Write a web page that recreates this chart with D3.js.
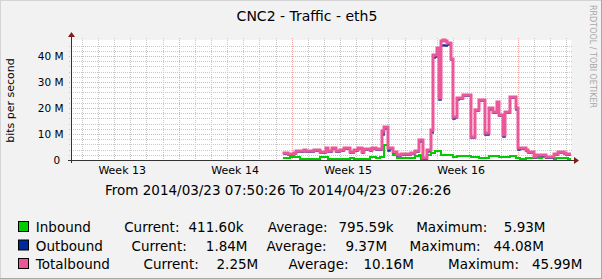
<!DOCTYPE html>
<html>
<head>
<meta charset="UTF-8"/>
<title>CNC2 - Traffic - eth5</title>
<style>
	body { margin: 0; background: #f2f2f2; }
	svg { display: block; font-family: 'DejaVu Sans', sans-serif; }
	.grid-minor { stroke: #c8c8c8; stroke-dasharray: 1 1; }
	.grid-major { stroke: #f5a8a8; stroke-dasharray: 1 1; }
	.axis-line { stroke: #333; stroke-width: 1; }
	.arrow { fill: #7f1d1d; }
	text { fill: #000; }
	.tick-label { font-size: 10.5px; }
	.week-label { font-size: 11px; }
	.title { font-size: 14px; }
	.legend { font-size: 13.5px; white-space: pre; }
	.vlabel { font-size: 11px; }
	.watermark { font-size: 8px; fill: #a8a8a8; }
</style>
<script src="https://cdn.jsdelivr.net/npm/d3@7"></script>
</head>
<body>
<svg width="602" height="279"></svg>
<script>
// time window of the graph
const startTime = new Date(Date.UTC(2014, 2, 23, 7, 50, 26));
const endTime = new Date(Date.UTC(2014, 3, 23, 7, 26, 26));
// rrd rows: first row and step (3 h)
const firstRow = new Date(Date.UTC(2014, 3, 5, 12, 0, 0));
const stepMs = 3 * 3600 * 1000;

// values in Mbit/s
const inbound = [0.6,0.6,0.6,1.0,1.0,1.0,1.0,1.0,0.5,0.5,
	0.5,0.5,0.5,0.5,0.5,0.5,0.5,0.5,1.0,1.0,
	1.0,1.0,0.5,0.5,0.5,0.5,0.5,0.5,0.5,0.5,
	0.5,0.5,0.5,0.7,0.7,0.5,0.5,0.5,0.5,0.5,
	0.5,0.5,0.5,1.0,1.0,1.0,0.6,0.6,1.0,1.0,
	5.93,5.9,4.5,4.5,1.9,1.9,0.9,0.9,0.64,0.64,
	0.64,0.64,0.64,0.64,0.64,1.54,1.54,1.9,0.5,0.4,
	0.4,1.9,1.9,2.56,2.56,3.59,3.59,3.59,1.92,1.91,
	1.92,1.92,1.92,1.92,1.28,1.28,1.54,1.54,1.54,1.54,
	1.54,1.54,1.54,1.28,1.28,1.28,1.28,0.9,0.9,0.9,
	0.9,0.64,1.54,1.54,1.54,1.54,1.54,1.28,1.28,1.28,
	1.28,1.28,1.54,1.54,1.54,0.64,0.64,0.5,0.5,0.5,
	0.9,0.9,0.9,0.64,0.64,0.64,0.64,0.64,1.28,1.28,
	0.9,0.9,0.9,0.9,0.5,0.6,0.6,0.6,0.6,0.6,
	0.6,0.41];

// mostly hidden under the totalbound line
const outbound = [2.4,2.4,1.9,1.9,1.9,2.4,3.1,3.1,3.1,3.1,
	3.4,3.1,3.1,3.1,3.1,3.4,3.4,3.4,2.8,2.8,
	2.8,4.1,3.1,3.1,4.1,4.1,3.1,3.1,3.4,3.4,
	4.1,4.1,4.1,2.8,2.8,3.4,3.4,4.1,4.1,2.8,
	3.8,3.8,3.8,3.4,4.3,4.3,3.8,3.8,3.8,9.5,
	11.8,12.0,3.6,4.2,2.6,2.6,1.5,1.5,1.9,1.9,
	1.9,1.9,1.9,2.4,2.4,3.1,3.1,6.8,7.3,0.3,
	0.3,3.2,3.4,10.3,39.4,39.8,42.0,22.9,44.0,44.08,
	44.0,44.3,44.5,38.4,15.8,16.2,23.1,23.3,23.3,24.6,
	24.6,24.6,24.6,8.3,8.6,18.8,18.8,22.5,22.6,22.6,
	9.5,9.8,19.4,19.5,18.2,18.2,21.9,16.8,16.9,8.9,
	18.1,18.2,23.9,24.0,24.0,19.4,3.9,4.1,4.1,4.1,
	3.4,2.8,2.8,2.8,0.9,1.4,1.4,1.4,1.4,1.4,
	0.7,0.7,0.7,0.7,1.8,1.8,2.5,2.5,2.5,2.2,
	1.9,1.84];

const totalbound = [2.8,2.8,2.3,2.3,2.3,2.8,3.5,3.5,3.5,3.5,
	3.8,3.5,3.5,3.5,3.5,3.8,3.8,3.8,3.2,3.2,
	3.2,4.5,3.5,3.5,4.5,4.5,3.5,3.5,3.8,3.8,
	4.5,4.5,4.5,3.2,3.2,3.8,3.8,4.5,4.5,3.2,
	4.2,4.2,4.2,3.8,4.7,4.7,4.2,4.2,4.2,11.0,
	12.5,12.5,4.8,4.8,3.0,3.0,1.9,1.9,2.3,2.3,
	2.3,2.3,2.3,2.8,2.8,3.5,3.5,7.7,7.7,0.6,
	0.6,3.8,3.8,11.5,40.5,40.5,43.0,24.0,45.9,45.99,
	45.9,44.9,44.9,39.0,16.7,16.7,23.7,23.7,23.7,25.0,
	25.0,25.0,25.0,9.0,9.0,19.2,19.2,23.0,23.0,23.0,
	10.2,10.2,19.9,19.9,18.6,18.6,22.4,17.3,17.3,9.6,
	18.6,18.6,24.4,24.4,24.4,19.9,4.5,4.5,4.5,4.5,
	3.8,3.2,3.2,3.2,1.3,1.8,1.8,1.8,1.8,1.8,
	1.0,1.0,1.0,1.0,2.2,2.2,2.9,2.9,2.9,2.6,
	2.25,2.25];

const seriesNames = ['Inbound', 'Outbound', 'Totalbound'];
const currentValues = ['411.60k', '1.84M', '2.25M'];
const averageValues = ['795.59k', '9.37M', '10.16M'];
const maximumValues = ['5.93M', '44.08M', '45.99M'];

const yTicks = [0, 10, 20, 30, 40];
const yTickLabels = ['0 ', '10 M', '20 M', '30 M', '40 M'];
const weekTicks = ['2014-03-26T12:00:00Z', '2014-04-02T12:00:00Z', '2014-04-09T12:00:00Z', '2014-04-16T12:00:00Z'];
const weekLabels = ['Week 13', 'Week 14', 'Week 15', 'Week 16'];

const colors = { Inbound: '#00cc00', Outbound: '#002a97', Totalbound: '#ec5799' };
const widths = { Inbound: 2, Outbound: 1.5, Totalbound: 3 };

// plot area
const plotLeft = 71, plotRight = 571, plotTop = 40, plotBottom = 160;

const svg = d3.select('svg');

svg.append('rect').attr('width', 602).attr('height', 279).attr('fill', '#f2f2f2');
// 3d frame
svg.append('path').attr('d', 'M0,279V0H602').attr('fill', 'none').attr('stroke', '#d4d4d4').attr('stroke-width', 2);
svg.append('path').attr('d', 'M602,0V279H0').attr('fill', 'none').attr('stroke', '#a8a8a8').attr('stroke-width', 2);

const x = d3.scaleUtc().domain([startTime, endTime]).range([plotLeft, plotRight]);
const y = d3.scaleLinear().domain([0, 46.15]).range([plotBottom, plotTop]);

svg.append('rect')
	.attr('x', plotLeft).attr('y', plotTop)
	.attr('width', plotRight - plotLeft).attr('height', plotBottom - plotTop)
	.attr('fill', '#fff');

const px = v => Math.round(v) + 0.5;

// horizontal grid
const hMinor = d3.range(2, 46, 2).filter(v => v % 10 !== 0);
svg.append('g').selectAll('line').data(hMinor).join('line')
	.attr('class', 'grid-minor')
	.attr('x1', plotLeft - 2).attr('x2', plotRight + 2)
	.attr('y1', d => px(y(d))).attr('y2', d => px(y(d)));
svg.append('g').selectAll('line').data(yTicks.filter(v => v > 0)).join('line')
	.attr('class', 'grid-major')
	.attr('x1', plotLeft - 2).attr('x2', plotRight + 2)
	.attr('y1', d => px(y(d))).attr('y2', d => px(y(d)));

// vertical grid
const days = d3.utcDay.range(startTime, endTime).filter(d => d.getUTCDay() !== 0);
const weeks = d3.utcSunday.range(startTime, endTime);
svg.append('g').selectAll('line').data(days).join('line')
	.attr('class', 'grid-minor')
	.attr('x1', d => px(x(d))).attr('x2', d => px(x(d)))
	.attr('y1', plotTop - 2).attr('y2', plotBottom + 2);
svg.append('g').selectAll('line').data(weeks).join('line')
	.attr('class', 'grid-major')
	.attr('x1', d => px(x(d))).attr('x2', d => px(x(d)))
	.attr('y1', plotTop - 2).attr('y2', plotBottom + 2);

// data lines
svg.append('clipPath').attr('id', 'clip').append('rect')
	.attr('x', plotLeft).attr('y', plotTop - 5).attr('width', plotRight - plotLeft).attr('height', plotBottom - plotTop + 5);

function rows(values) {
	const pts = values.map((v, i) => ({ t: new Date(+firstRow + i * stepMs), v }));
	pts.push({ t: new Date(+firstRow + values.length * stepMs), v: values[values.length - 1] });
	return pts;
}

const line = d3.line()
	.x(d => Math.round(x(d.t)))
	.y(d => Math.round(y(d.v)))
	.curve(d3.curveStepAfter);

const series = [
	{ name: 'Inbound', values: inbound },
	{ name: 'Outbound', values: outbound },
	{ name: 'Totalbound', values: totalbound }
];

svg.append('g').attr('clip-path', 'url(#clip)')
	.selectAll('path').data(series).join('path')
	.attr('d', s => line(rows(s.values)))
	.attr('fill', 'none')
	.attr('stroke', s => colors[s.name])
	.attr('stroke-width', s => widths[s.name])
	.attr('stroke-linejoin', 'miter')
	.attr('stroke-linecap', 'square');

// axes
svg.append('line').attr('class', 'axis-line')
	.attr('x1', plotLeft - 3).attr('x2', plotRight + 3)
	.attr('y1', plotBottom + 0.5).attr('y2', plotBottom + 0.5);
svg.append('line').attr('class', 'axis-line')
	.attr('x1', plotLeft + 0.5).attr('x2', plotLeft + 0.5)
	.attr('y1', plotBottom + 3).attr('y2', plotTop - 3);
svg.append('path').attr('class', 'arrow')
	.attr('d', `M${plotRight + 3},${plotBottom - 3}L${plotRight + 8},${plotBottom + 0.5}L${plotRight + 3},${plotBottom + 4}Z`);
svg.append('path').attr('class', 'arrow')
	.attr('d', `M${plotLeft - 3},${plotTop - 3}L${plotLeft + 0.5},${plotTop - 8}L${plotLeft + 4},${plotTop - 3}Z`);

// y tick labels
svg.append('g').selectAll('text').data(yTicks).join('text')
	.attr('class', 'tick-label')
	.style('white-space', 'pre')
	.attr('x', 63.5)
	.attr('y', d => y(d) + 4)
	.attr('text-anchor', 'end')
	.text((d, i) => yTickLabels[i]);

// week labels
svg.append('g').selectAll('text').data(weekTicks).join('text')
	.attr('class', 'week-label')
	.attr('x', d => x(new Date(d)))
	.attr('y', 174)
	.attr('text-anchor', 'middle')
	.text((d, i) => weekLabels[i]);

// title
svg.append('text').attr('class', 'title')
	.attr('x', 307).attr('y', 21)
	.attr('text-anchor', 'middle')
	.text('CNC2 - Traffic - eth5');

// vertical label
svg.append('text').attr('class', 'vlabel')
	.attr('transform', 'translate(14,100.5) rotate(-90)')
	.attr('text-anchor', 'middle')
	.text('bits per second');

// watermark
svg.append('text').attr('class', 'watermark')
	.attr('transform', 'translate(590,5) rotate(90)')
	.text('RRDTOOL / TOBI OETIKER');

// period comment
svg.append('text').attr('class', 'legend')
	.attr('x', 105).attr('y', 195)
	.text('From 2014/03/23 07:50:26 To 2014/04/23 07:26:26');

// legend
const rowY = [232, 250.5, 269];
const colX = [
	[35.8, 124.2, 188.5, 267.7, 338.5, 416.2, 503.8],
	[35.8, 131.5, 205.8, 266.5, 345.4, 409.6, 493.5],
	[35.8, 143.5, 216.5, 288.5, 363.5, 448, 532]
];

seriesNames.forEach((name, i) => {
	const g = svg.append('g');
	g.append('rect')
		.attr('x', 18.5).attr('y', rowY[i] - 10.5)
		.attr('width', 10).attr('height', 10)
		.attr('fill', colors[name])
		.attr('stroke', '#000').attr('stroke-width', 1);
	const parts = [name, 'Current:', currentValues[i], 'Average:', averageValues[i], 'Maximum:', maximumValues[i]];
	g.selectAll('text').data(parts).join('text')
		.attr('class', 'legend')
		.attr('x', (d, j) => colX[i][j])
		.attr('y', rowY[i])
		.text(d => d);
});
</script>
</body>
</html>
